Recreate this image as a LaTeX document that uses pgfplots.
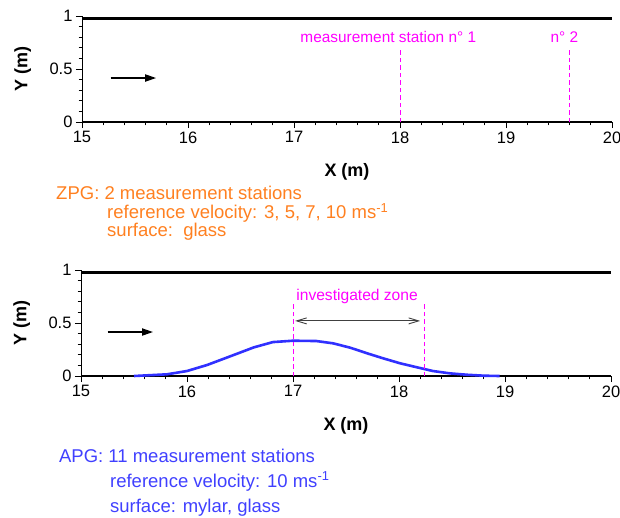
\documentclass[border=0pt]{standalone}
\usepackage{fontspec}
\setmainfont{Liberation Sans}
\usepackage{pgfplots}
\pgfplotsset{compat=1.18}
\usetikzlibrary{arrows.meta}
\definecolor{zpgorange}{RGB}{255,128,32}
\definecolor{apgblue}{RGB}{64,64,255}
\definecolor{annmag}{RGB}{255,0,255}
\definecolor{linblue}{RGB}{48,48,255}
\pgfplotsset{
  chan/.style={
    scale only axis, width=530pt, height=106pt,
    xmin=15, xmax=20, ymin=0, ymax=1,
    axis x line*=bottom, axis y line*=left,
    xtick={15,16,17,18,19,20}, ytick={0,0.5,1},
    minor x tick num=4, minor y tick num=4,
    tick align=outside,
    major tick length=6pt, minor tick length=3.3pt,
    every tick/.style={black, line width=0.8pt},
    y axis line style={line width=0.9pt},
    x axis line style={line width=2.6pt},
    /pgf/number format/assume math mode=true,
    ticklabel style={font=\fontsize{16.5}{19}\selectfont},
    yticklabel style={/pgf/number format/fixed},
    xlabel={\textbf{X (m)}},
    ylabel={\textbf{Y (m)}},
    label style={font=\fontsize{18}{21}\selectfont},
    xlabel style={at={(axis description cs:0.5,-0.472)}, anchor=center},
    ylabel style={at={(axis description cs:-0.112,0.5)}, anchor=center, rotate=0},
    clip=false,
    anchor=south west,
  }
}
\pgfplotstableread{
x y
15.5 0
15.81 0.016
16.0 0.047
16.19 0.104
16.44 0.198
16.63 0.27
16.81 0.32
17.0 0.333
17.22 0.33
17.38 0.308
17.54 0.267
17.70 0.214
17.85 0.167
18.01 0.12
18.17 0.082
18.32 0.047
18.48 0.025
18.64 0.012
18.80 0.003
18.95 0
}\apgwall
\begin{document}
\begin{tikzpicture}
\useasboundingbox (0pt,0pt) rectangle (620pt,-517pt);
% ---------- top: ZPG ----------
\begin{axis}[chan, at={(82pt,-122pt)}]
\addplot[black, line width=2.6pt] coordinates {(15,0.976) (20,0.976)};
\addplot[annmag, line width=0.9pt, dash pattern=on 4.5pt off 3pt] coordinates {(18,0) (18,0.70)};
\addplot[annmag, line width=0.9pt, dash pattern=on 4.5pt off 3pt] coordinates {(19.6,0) (19.6,0.70)};
\node[annmag, anchor=east, inner sep=0pt, font=\fontsize{15.4}{18}\selectfont] at (axis cs:18.72,0.80) {measurement station n° 1};
\node[annmag, anchor=center, inner sep=0pt, font=\fontsize{15.4}{18}\selectfont] at (axis cs:19.55,0.80) {n° 2};
\draw[black, line width=1.8pt, -{Triangle[length=11pt,width=7pt]}] (axis cs:15.27,0.415) -- (axis cs:15.70,0.415);
\node[zpgorange, anchor=north west, inner sep=0pt, align=left, font=\fontsize{18.5}{18.5}\selectfont] at (axis cs:14.755,-0.607)
  {ZPG: 2 measurement stations\\\hspace*{51pt}reference velocity: 3, 5, 7, 10 ms\textsuperscript{-1}\\\hspace*{51pt}surface:\ \ glass};
\end{axis}
% ---------- bottom: APG ----------
\begin{axis}[chan, at={(81pt,-376pt)}]
\addplot[black, line width=2.6pt] coordinates {(15,0.976) (20,0.976)};
\addplot[linblue, line width=2.6pt] table[x=x,y=y] {\apgwall};
\addplot[annmag, line width=0.9pt, dash pattern=on 4.5pt off 3pt] coordinates {(17,0) (17,0.69)};
\addplot[annmag, line width=0.9pt, dash pattern=on 4.5pt off 3pt] coordinates {(18.24,0) (18.24,0.69)};
\node[annmag, anchor=west, inner sep=0pt, font=\fontsize{15.6}{18}\selectfont] at (axis cs:17.03,0.755) {investigated zone};
\draw[black!75, line width=0.9pt, {Straight Barb[length=10pt,width=6pt]}-{Straight Barb[length=10pt,width=6pt]}] (axis cs:17.02,0.52) -- (axis cs:18.2,0.52);
\draw[black, line width=1.8pt, -{Triangle[length=11pt,width=7pt]}] (axis cs:15.25,0.415) -- (axis cs:15.68,0.415);
\node[apgblue, anchor=north west, inner sep=0pt, align=left, font=\fontsize{18.5}{25}\selectfont] at (axis cs:14.792,-0.683)
  {APG: 11 measurement stations\\\hspace*{51pt}reference velocity: 10 ms\textsuperscript{-1}\\\hspace*{51pt}surface: mylar, glass};
\end{axis}
\end{tikzpicture}
\end{document}
